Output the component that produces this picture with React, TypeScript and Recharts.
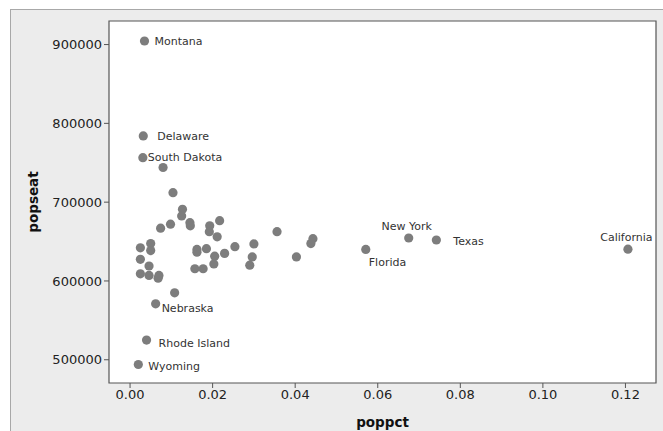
import { ReferenceArea, Scatter, ScatterChart, XAxis, YAxis, LabelList } from "recharts";

// state names ("" = unlabelled point)
const states = [
  "Montana", "Delaware", "South Dakota", "Nebraska", "Rhode Island", "Wyoming",
  "Florida", "New York", "Texas", "California",
  "", "", "", "", "", "", "", "", "", "", "", "", "", "", "", "", "", "", "",
  "", "", "", "", "", "", "", "", "", "", "", "", "", "", "", "", "", "", "",
];

const poppct = [
  0.0035, 0.0032, 0.0031, 0.0062, 0.004, 0.002,
  0.0571, 0.0675, 0.0742, 0.1206,
  0.008, 0.0104, 0.0127, 0.0125, 0.0145, 0.0146, 0.0098, 0.0074, 0.0193,
  0.0192, 0.0217, 0.0211, 0.0356, 0.0025, 0.005, 0.005, 0.0025, 0.0162, 0.0162,
  0.0185, 0.0205, 0.0203, 0.0229, 0.0254, 0.03, 0.0296, 0.029, 0.0403, 0.0046,
  0.0025, 0.0046, 0.007, 0.0068, 0.0157, 0.0177, 0.0108, 0.0443, 0.0438,
];

const popseat = [
  904500, 784000, 756500, 571000, 525000, 494000,
  640000, 654500, 652000, 640300,
  744000, 712000, 691000, 682500, 674000, 670000, 672000, 667000, 670000,
  662500, 676500, 656000, 662500, 642000, 647500, 638500, 627500, 640000, 636500,
  641000, 631500, 621500, 635000, 643500, 647000, 630500, 620000, 630500, 619000,
  609000, 607000, 607000, 603500, 615500, 615500, 585000, 653700, 647400,
];

const xTicks = [0, 0.02, 0.04, 0.06, 0.08, 0.1, 0.12];
const yTicks = [500000, 600000, 700000, 800000, 900000];

const X_DOMAIN: [number, number] = [-0.0051, 0.1274];
const Y_DOMAIN: [number, number] = [470500, 929900];

// where each state's label sits relative to its point
const labelPos: Record<string, { dx: number; dy: number; anchor: "start" | "middle" }> = {
  Montana: { dx: 10, dy: 0, anchor: "start" },
  Delaware: { dx: 14, dy: 0, anchor: "start" },
  "South Dakota": { dx: 5, dy: 0, anchor: "start" },
  Nebraska: { dx: 6, dy: 4, anchor: "start" },
  "Rhode Island": { dx: 12, dy: 3, anchor: "start" },
  Wyoming: { dx: 10, dy: 1.5, anchor: "start" },
  Florida: { dx: 3, dy: 12.5, anchor: "start" },
  "New York": { dx: -2, dy: -12, anchor: "middle" },
  Texas: { dx: 17, dy: 1.5, anchor: "start" },
  California: { dx: -1.5, dy: -12, anchor: "middle" },
};

const data = poppct.map((x, i) => ({ x, y: popseat[i], name: states[i] }));

const font = "'DejaVu Sans', Verdana, sans-serif";

function StateLabel(props: any) {
  const { x, y, width, height, value } = props;
  if (!value) return null;
  const p = labelPos[value];
  const cx = x + width / 2;
  const cy = y + height / 2;
  return (
    <text
      x={cx + p.dx}
      y={cy + p.dy}
      dy="0.35em"
      textAnchor={p.anchor}
      fontSize={11}
      fontFamily={font}
      fill="#333"
    >
      {value}
    </text>
  );
}

export default function App() {
  return (
    <div style={{ position: "absolute", left: 0, top: 0, width: 663, height: 431, background: "#fff", overflow: "hidden" }}>
      <div
        style={{
          position: "absolute",
          left: 10,
          top: 9,
          width: 700,
          height: 500,
          background: "#ececec",
          borderLeft: "1px solid #a8a8a8",
          borderTop: "1px solid #a8a8a8",
        }}
      />
      <div style={{ position: "absolute", left: 0, top: 0 }}>
        <ScatterChart width={663} height={431} margin={{ top: 21, right: 7, left: 0, bottom: 0 }}>
          <XAxis
            type="number"
            dataKey="x"
            domain={X_DOMAIN}
            ticks={xTicks}
            tickFormatter={(v: number) => v.toFixed(2)}
            allowDataOverflow
            height={48}
            axisLine={false}
            tickLine={{ stroke: "#555" }}
            tickSize={5}
            tick={{ fontSize: 13, fontFamily: font, fill: "#222" }}
            label={{
              value: "poppct",
              position: "insideBottom",
              offset: 4,
              style: { fontSize: 13.5, fontWeight: "bold", fontFamily: font, fill: "#111" },
            }}
          />
          <YAxis
            type="number"
            dataKey="y"
            domain={Y_DOMAIN}
            ticks={yTicks}
            allowDataOverflow
            width={109}
            axisLine={false}
            tickLine={{ stroke: "#555" }}
            tickSize={5}
            tick={{ fontSize: 13, fontFamily: font, fill: "#222" }}
            label={{
              value: "popseat",
              angle: -90,
              position: "insideLeft",
              offset: 33,
              style: { textAnchor: "middle", fontSize: 13.5, fontWeight: "bold", fontFamily: font, fill: "#111" },
            }}
          />
          <ReferenceArea
            x1={X_DOMAIN[0]}
            x2={X_DOMAIN[1]}
            y1={Y_DOMAIN[0]}
            y2={Y_DOMAIN[1]}
            fill="#fff"
            fillOpacity={1}
            stroke="#555"
            strokeWidth={1.2}
            ifOverflow="visible"
          />
          <Scatter
            data={data}
            isAnimationActive={false}
            shape={(p: any) => <circle cx={p.cx} cy={p.cy} r={4.6} fill="#7d7d7d" />}
          >
            <LabelList dataKey="name" content={StateLabel} />
          </Scatter>
        </ScatterChart>
      </div>
    </div>
  );
}
